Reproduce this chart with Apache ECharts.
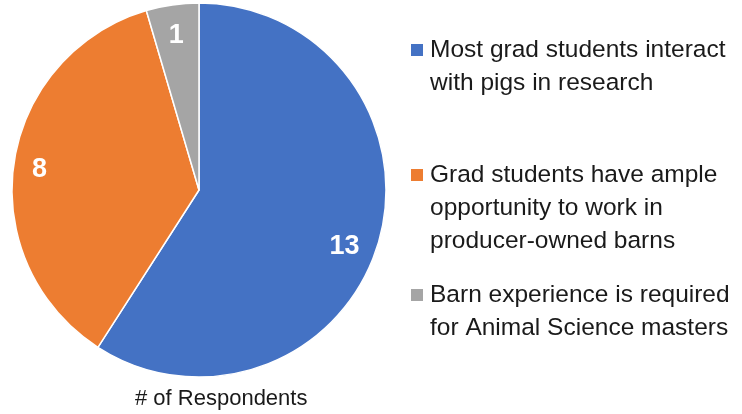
<!DOCTYPE html>
<html>
<head>
<meta charset="utf-8">
<script src="https://cdn.jsdelivr.net/npm/echarts@6/dist/echarts.min.js"></script>
<style>
  html, body { margin: 0; padding: 0; background: #fff; }
  #chart { width: 742px; height: 414px; }
</style>
</head>
<body>
<div id="chart"></div>
<script>
const categories = [
  'Most grad students interact with pigs in research',
  'Grad students have ample opportunity to work in producer-owned barns',
  'Barn experience is required for Animal Science masters'
];
const legendLines = [
  ['Most grad students interact', 'with pigs in research'],
  ['Grad students have ample', 'opportunity to work in', 'producer-owned barns'],
  ['Barn experience is required', 'for Animal Science masters']
];
const respondents = [13, 8, 1];
const colors = ['#4472C4', '#ED7D31', '#A5A5A5'];
const titleText = '# of Respondents';

const LH = 33;
const FONT = 'Liberation Sans, Arial, sans-serif';

function iconPath(lines) {
  const h = lines * LH;
  const s = 12;
  const t = (LH - s) / 2;
  return 'path://M0,' + t + ' L' + s + ',' + t + ' L' + s + ',' + (t + s) + ' L0,' + (t + s) +
    ' Z M0,0 L14,0 Z M0,' + h + ' L14,' + h + ' Z';
}

const legendTops = [33.5, 158.5, 278.5];
const legends = categories.map((name, i) => ({
  data: [{ name: name, icon: iconPath(legendLines[i].length), itemStyle: { color: colors[i], borderWidth: 0 } }],
  orient: 'vertical',
  left: 411,
  top: legendTops[i],
  padding: 0,
  itemWidth: 14,
  itemHeight: legendLines[i].length * LH,
  selectedMode: false,
  itemStyle: { borderWidth: 0 },
  formatter: function () { return legendLines[i].join('\n'); },
  textStyle: { fontFamily: FONT, fontSize: 24.5, lineHeight: LH, color: '#1a1a1a' }
}));

const pieData = categories.map((name, i) => ({
  name: name, value: respondents[i], itemStyle: { color: colors[i] }
}));

const labelOffsets = [[-8, 11], [-1, 2], [0, 4]];

const chart = echarts.init(document.getElementById('chart'), null, { renderer: 'canvas' });
chart.setOption({
  animation: false,
  backgroundColor: '#ffffff',
  title: {
    text: titleText,
    left: 135,
    top: 388,
    padding: 0,
    textStyle: { fontFamily: FONT, fontSize: 22, fontWeight: 'normal', color: '#1a1a1a' }
  },
  legend: legends,
  series: [
    {
      type: 'pie',
      center: [199, 190],
      radius: [0, 187],
      startAngle: 90,
      clockwise: true,
      silent: true,
      label: { show: false },
      labelLine: { show: false },
      itemStyle: { borderColor: '#ffffff', borderWidth: 1.5 },
      data: pieData
    },
    {
      type: 'pie',
      center: [199, 190],
      radius: [127, 187],
      startAngle: 90,
      clockwise: true,
      silent: true,
      itemStyle: { color: 'rgba(0,0,0,0)', borderWidth: 0 },
      label: {
        show: true,
        position: 'inside',
        formatter: '{c}',
        color: '#ffffff',
        fontFamily: FONT,
        fontSize: 27,
        fontWeight: 'bold'
      },
      labelLine: { show: false },
      data: categories.map((name, i) => ({
        name: name, value: respondents[i], label: { offset: labelOffsets[i] }
      }))
    }
  ]
});
</script>
</body>
</html>
